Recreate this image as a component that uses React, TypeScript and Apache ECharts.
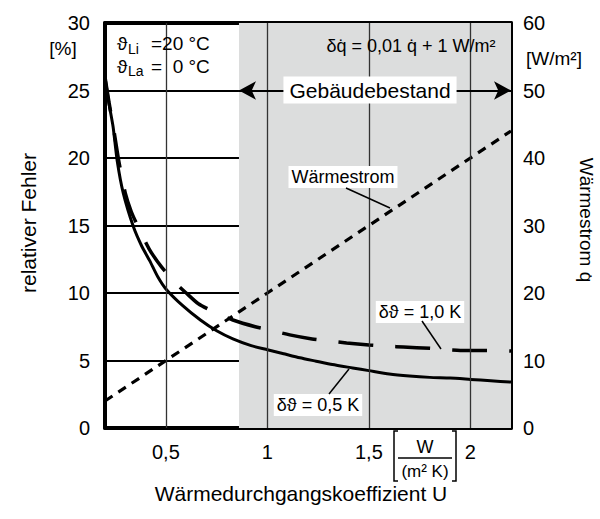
import React, { useEffect, useRef } from "react";
import * as echarts from "echarts";

// U values [W/(m² K)] and relative error [%] for δϑ = 0,5 K
const uHalfK = [0.2, 0.22, 0.24, 0.26, 0.29, 0.34, 0.38, 0.42, 0.46, 0.5, 0.58, 0.67, 0.75, 0.83, 0.92, 1.0, 1.08, 1.16, 1.24, 1.32, 1.42, 1.5, 1.6, 1.7, 1.8, 1.9, 2.0, 2.1, 2.2];
const errHalfK = [26, 24, 22.3, 19.8, 17.4, 14.9, 13.5, 12.4, 11.2, 10.3, 9.1, 8.0, 7.2, 6.6, 6.1, 5.8, 5.5, 5.2, 4.95, 4.7, 4.45, 4.25, 4.0, 3.85, 3.75, 3.7, 3.6, 3.5, 3.4];

// relative error [%] for δϑ = 1,0 K
const uOneK = [0.2, 0.22, 0.24, 0.27, 0.3, 0.33, 0.36, 0.42, 0.48, 0.55, 0.6, 0.66, 0.75, 0.83, 0.94, 1.0, 1.11, 1.22, 1.3, 1.39, 1.5, 1.6, 1.67, 1.8, 1.95, 2.06, 2.2];
const errOneK = [26, 24.1, 22.4, 19.6, 17.4, 16.0, 15.0, 13.2, 11.9, 10.7, 10, 9.2, 8.5, 8.0, 7.5, 7.3, 6.9, 6.6, 6.45, 6.3, 6.15, 6.05, 6.0, 5.9, 5.75, 5.75, 5.7];

// heat flow [W/m²]
const uFlow = [0.2, 1.0, 1.5, 2.2];
const qFlow = [4, 20, 30, 44];

// x ticks
const uTicks = [0.5, 1, 1.5, 2];
const uTickLabels = ["0,5", "1", "1,5", "2"];

// building stock range
const stockStart = 0.86;
const stockEnd = 2.2;
const stockLevel = 25;

const FONT = "'Liberation Sans', Arial, sans-serif";

const zip = (a: number[], b: number[]) => a.map((v, i) => [v, b[i]]);

function txt(text: string, x: number, y: number, fontSize: number, extra: any = {}, elExtra: any = {}) {
  return {
    type: "text",
    x,
    y,
    z: 100,
    silent: true,
    ...elExtra,
    style: {
      text,
      fill: "#000",
      fontSize,
      fontFamily: FONT,
      align: "center",
      verticalAlign: "middle",
      ...extra,
    },
  };
}

function line(x1: number, y1: number, x2: number, y2: number, w = 1.5) {
  return {
    type: "line",
    z: 100,
    silent: true,
    shape: { x1, y1, x2, y2 },
    style: { stroke: "#000", lineWidth: w },
  };
}

export default function App() {
  const ref = useRef<HTMLDivElement>(null);
  useEffect(() => {
    if (!ref.current) return;
    const chart = echarts.init(ref.current, undefined, { renderer: "svg" });
    const option: any = {
      animation: false,
      backgroundColor: "#fff",
      grid: { left: 105, right: 89, top: 23, bottom: 91, outerBoundsMode: "none" },
      xAxis: [
        {
          type: "value",
          min: 0.2,
          max: 2.2,
          interval: 0.1,
          axisLine: { show: true, onZero: false, lineStyle: { color: "#000", width: 4 } },
          axisTick: { show: false },
          splitLine: { show: false },
          axisLabel: {
            margin: 14,
            fontSize: 20,
            color: "#000",
            fontFamily: FONT,
            formatter: (v: number) => {
              const i = uTicks.findIndex((t) => Math.abs(t - v) < 1e-6);
              return i >= 0 ? uTickLabels[i] : "";
            },
          },
        },
        {
          type: "value",
          position: "top",
          min: 0.2,
          max: 2.2,
          interval: 0.1,
          axisLine: { show: true, onZero: false, lineStyle: { color: "#000", width: 4 } },
          axisTick: { show: false },
          splitLine: { show: false },
          axisLabel: { show: false },
        },
      ],
      yAxis: [
        {
          type: "value",
          min: 0,
          max: 30,
          interval: 5,
          axisLine: { show: true, lineStyle: { color: "#000", width: 4 } },
          axisTick: { show: false },
          splitLine: { show: true, lineStyle: { color: "#000", width: 2 } },
          axisLabel: { margin: 15, fontSize: 20, color: "#000", fontFamily: FONT },
        },
        {
          type: "value",
          position: "right",
          min: 0,
          max: 60,
          interval: 10,
          axisLine: { show: true, lineStyle: { color: "#000", width: 4 } },
          axisTick: { show: false },
          splitLine: { show: false },
          axisLabel: { margin: 12, fontSize: 20, color: "#000", fontFamily: FONT },
        },
      ],
      series: [
        {
          type: "line",
          name: "band",
          z: -2,
          data: [[0.2, 0]],
          symbol: "none",
          lineStyle: { opacity: 0 },
          silent: true,
          markArea: {
            silent: true,
            itemStyle: { color: "#dcdddd" },
            data: [[{ xAxis: stockStart }, { xAxis: stockEnd }]],
          },
        },
        {
          type: "line",
          name: "vgrid",
          z: -1,
          data: [[0.2, 0]],
          symbol: "none",
          lineStyle: { opacity: 0 },
          silent: true,
          markLine: {
            silent: true,
            symbol: ["none", "none"],
            label: { show: false },
            lineStyle: { color: "#333", width: 1.3, type: "solid" },
            data: uTicks.map((t) => ({ xAxis: t })),
          },
        },
        {
          type: "line",
          name: "Wärmestrom",
          yAxisIndex: 1,
          z: 3,
          data: zip(uFlow, qFlow),
          symbol: "none",
          lineStyle: { color: "#000", width: 3.2, type: [9, 7], cap: "butt" },
        },
        {
          type: "line",
          name: "δϑ = 1,0 K",
          z: 3,
          data: zip(uOneK, errOneK),
          symbol: "none",
          smooth: 0.2,
          lineStyle: { color: "#000", width: 3.5, type: [35, 22], cap: "butt" },
        },
        {
          type: "line",
          name: "δϑ = 0,5 K",
          z: 4,
          data: zip(uHalfK, errHalfK),
          symbol: "none",
          smooth: 0.2,
          lineStyle: { color: "#000", width: 3, type: "solid" },
          markLine: {
            silent: true,
            symbol: ["arrow", "arrow"],
            symbolSize: [14, 17],
            label: { show: false },
            lineStyle: { color: "#000", width: 2, type: "solid" },
            data: [[{ coord: [stockStart, stockLevel] }, { coord: [stockEnd, stockLevel] }]],
          },
        },
      ],
      graphic: [
        // axis names and units
        txt("relativer Fehler", 28, 223, 21, {}, { rotation: Math.PI / 2 }),
        txt("Wärmestrom q̇", 586, 220, 19, {}, { rotation: -Math.PI / 2 }),
        txt("[%]", 63, 48, 19),
        txt("[W/m²]", 554, 58, 19),
        txt("Wärmedurchgangskoeffizient U", 301, 493, 21),
        // conditions
        txt("ϑ", 117, 43, 19, { align: "left" }),
        txt("Li", 128, 49, 14, { align: "left" }),
        txt("=20 °C", 151, 43, 19, { align: "left" }),
        txt("ϑ", 117, 66, 19, { align: "left" }),
        txt("La", 128, 71, 14, { align: "left" }),
        txt("=  0 °C", 151, 66, 19, { align: "left" }),
        txt("δq̇ = 0,01 q̇ + 1 W/m²", 411, 46, 18),
        // range label
        txt("Gebäudebestand", 370, 90, 21, { backgroundColor: "#fff", padding: [3, 6] }),
        // curve labels
        txt("Wärmestrom", 343, 177, 18, { backgroundColor: "#fff", padding: [2, 3] }),
        line(346, 188, 390, 208),
        txt("δϑ = 1,0 K", 420, 312, 18, { backgroundColor: "#fff", padding: [2, 3] }),
        line(422, 321, 441, 349),
        txt("δϑ = 0,5 K", 318, 405, 18, { backgroundColor: "#fff", padding: [2, 3] }),
        line(329, 394, 349, 369),
        // unit of x axis
        {
          type: "polyline",
          z: 100,
          silent: true,
          shape: { points: [[398, 431], [394, 431], [394, 481], [398, 481]] },
          style: { stroke: "#000", lineWidth: 1.5, fill: null },
        },
        {
          type: "polyline",
          z: 100,
          silent: true,
          shape: { points: [[452, 431], [456, 431], [456, 481], [452, 481]] },
          style: { stroke: "#000", lineWidth: 1.5, fill: null },
        },
        line(398, 458, 452, 458, 1.3),
        txt("W", 425, 447, 18),
        txt("(m² K)", 425, 471, 17),
      ],
    };
    chart.setOption(option);
    return () => chart.dispose();
  }, []);
  return (
    <div
      ref={ref}
      style={{ position: "fixed", left: 0, top: 0, width: 600, height: 519, background: "#fff" }}
    />
  );
}
